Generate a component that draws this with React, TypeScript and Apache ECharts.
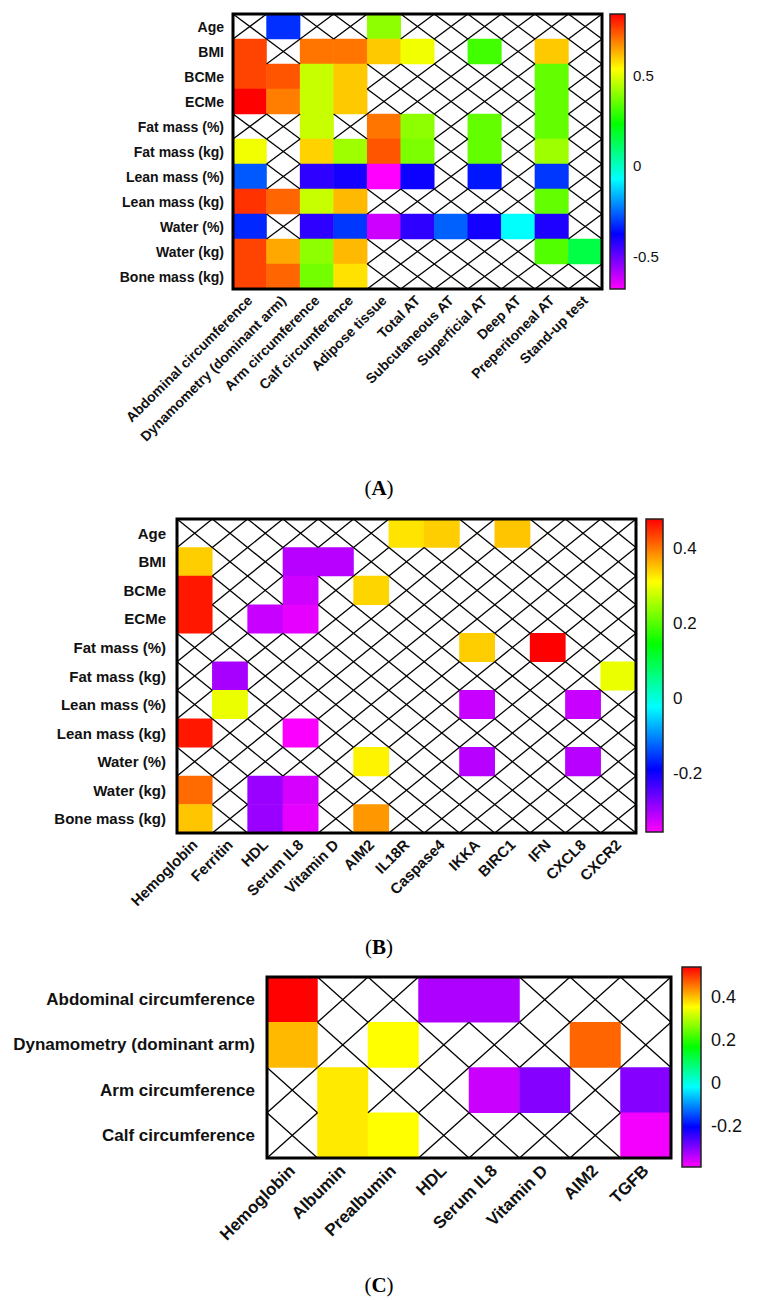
import React, { useEffect, useRef } from 'react';
import * as echarts from 'echarts';

const rowsA = ['Age', 'BMI', 'BCMe', 'ECMe', 'Fat mass (%)', 'Fat mass (kg)', 'Lean mass (%)', 'Lean mass (kg)', 'Water (%)', 'Water (kg)', 'Bone mass (kg)'];
const colsA = ['Abdominal circumference', 'Dynamometry (dominant arm)', 'Arm circumference', 'Calf circumference', 'Adipose tissue', 'Total AT', 'Subcutaneous AT', 'Superficial AT', 'Deep AT', 'Preperitoneal AT', 'Stand-up test'];
const N = null;
const valuesA: (number | null)[][] = [
  [N, -0.32, N, N, 0.40, N, N, N, N, N, N],
  [0.76, N, 0.70, 0.70, 0.60, 0.52, N, 0.31, N, 0.60, N],
  [0.76, 0.74, 0.47, 0.60, N, N, N, N, N, 0.35, N],
  [0.84, 0.69, 0.47, 0.60, N, N, N, N, N, 0.35, N],
  [N, N, 0.47, N, 0.70, 0.40, N, 0.35, N, 0.35, N],
  [0.52, N, 0.59, 0.42, 0.74, 0.38, N, 0.35, N, 0.42, N],
  [-0.27, N, -0.43, -0.40, -0.68, -0.39, N, -0.35, N, -0.31, N],
  [0.78, 0.72, 0.47, 0.62, N, N, N, N, N, 0.35, N],
  [-0.33, N, -0.43, -0.31, -0.62, -0.43, -0.26, -0.40, -0.07, -0.41, N],
  [0.76, 0.64, 0.40, 0.62, N, N, N, N, N, 0.33, 0.15],
  [0.76, 0.72, 0.37, 0.57, N, N, N, N, N, N, N],
];
const rangeA = [-0.68, 0.84];
const ticksA = [-0.5, 0, 0.5];

const rowsB = rowsA;
const colsB = ['Hemoglobin', 'Ferritin', 'HDL', 'Serum IL8', 'Vitamin D', 'AIM2', 'IL18R', 'Caspase4', 'IKKA', 'BIRC1', 'IFN', 'CXCL8', 'CXCR2'];
const valuesB: (number | null)[][] = [
  [N, N, N, N, N, N, 0.33, 0.345, N, 0.35, N, N, N],
  [0.345, N, N, -0.31, -0.31, N, N, N, N, N, N, N, N],
  [0.465, N, N, -0.325, N, 0.34, N, N, N, N, N, N, N],
  [0.465, N, -0.32, -0.34, N, N, N, N, N, N, N, N, N],
  [N, N, N, N, N, N, N, N, 0.345, N, 0.48, N, N],
  [N, -0.30, N, N, N, N, N, N, N, N, N, N, 0.30],
  [N, 0.30, N, N, N, N, N, N, -0.32, N, N, -0.32, N],
  [0.465, N, N, -0.355, N, N, N, N, N, N, N, N, N],
  [N, N, N, N, N, 0.32, N, N, -0.31, N, N, -0.31, N],
  [0.41, N, -0.29, -0.33, N, N, N, N, N, N, N, N, N],
  [0.35, N, -0.29, -0.34, N, 0.38, N, N, N, N, N, N, N],
];
const rangeB = [-0.357, 0.48];
const ticksB = [-0.2, 0, 0.2, 0.4];

const rowsC = ['Abdominal circumference', 'Dynamometry (dominant arm)', 'Arm circumference', 'Calf circumference'];
const colsC = ['Hemoglobin', 'Albumin', 'Prealbumin', 'HDL', 'Serum IL8', 'Vitamin D', 'AIM2', 'TGFB'];
const valuesC: (number | null)[][] = [
  [0.54, N, N, -0.33, -0.33, N, N, N],
  [0.405, N, 0.355, N, N, N, 0.467, N],
  [N, 0.37, N, N, -0.35, -0.30, N, -0.30],
  [N, 0.37, 0.355, N, N, N, N, -0.38],
];
const rangeC = [-0.389, 0.541];
const ticksC = [-0.2, 0, 0.2, 0.4];

const panelLabels = ['A', 'B', 'C'];

const RAINBOW = ['#ff00ff', '#0000ff', '#00ffff', '#00ff00', '#ffff00', '#ff0000'];
const SANS = '"Liberation Sans", Arial, sans-serif';
const SERIF = '"Liberation Serif", "Times New Roman", serif';

export default function App() {
  const ref = useRef<HTMLDivElement>(null);
  useEffect(() => {
    document.body.style.margin = '0';
    if (!ref.current) return;
    const chart = echarts.init(ref.current, undefined, { renderer: 'svg' });

    const panels = [
      { rows: rowsA, cols: colsA, values: valuesA, range: rangeA, ticks: ticksA,
        grid: { left: 233, top: 14, width: 369, height: 275 },
        bar: { left: 610, top: 14, width: 15, height: 275 },
        font: 14, yMargin: 9, xMargin: 9, tickFont: 15, tickMargin: 8, labelY: 488 },
      { rows: rowsB, cols: colsB, values: valuesB, range: rangeB, ticks: ticksB,
        grid: { left: 177, top: 519, width: 459, height: 314 },
        bar: { left: 646, top: 519, width: 17, height: 313 },
        font: 15, yMargin: 11, xMargin: 9, tickFont: 17, tickMargin: 10, labelY: 947 },
      { rows: rowsC, cols: colsC, values: valuesC, range: rangeC, ticks: ticksC,
        grid: { left: 267, top: 977, width: 404, height: 181 },
        bar: { left: 682, top: 967, width: 19, height: 200 },
        font: 17, yMargin: 12, xMargin: 10, tickFont: 18, tickMargin: 10, labelY: 1285 },
    ];

    const grid: any[] = [];
    const xAxis: any[] = [];
    const yAxis: any[] = [];
    const series: any[] = [];
    const visualMap: any[] = [];
    const graphic: any[] = [];

    panels.forEach((p, i) => {
      const gMain = grid.length;
      grid.push({ ...p.grid, containLabel: false });
      const gBar = grid.length;
      grid.push({ ...p.bar, containLabel: false });

      const xMain = xAxis.length;
      xAxis.push({
        type: 'category', gridIndex: gMain, data: p.cols,
        axisLine: { show: false }, axisTick: { show: false }, splitLine: { show: false },
        axisLabel: { interval: 0, rotate: 45, fontWeight: 'bold', fontSize: p.font, fontFamily: SANS, color: '#111', margin: p.xMargin },
      });
      const yMain = yAxis.length;
      yAxis.push({
        type: 'category', gridIndex: gMain, data: p.rows, inverse: true,
        axisLine: { show: false }, axisTick: { show: false }, splitLine: { show: false },
        axisLabel: { interval: 0, fontWeight: 'bold', fontSize: p.font, fontFamily: SANS, color: '#111', margin: p.yMargin },
      });
      const xBar = xAxis.length;
      xAxis.push({ type: 'value', gridIndex: gBar, min: 0, max: 1, show: false });
      const yBar = yAxis.length;
      yAxis.push({
        type: 'value', gridIndex: gBar, min: p.range[0], max: p.range[1], position: 'right',
        axisLine: { show: false }, splitLine: { show: false },
        axisTick: { show: true, customValues: p.ticks, length: 3, inside: false, lineStyle: { color: '#000', width: 1.5 } },
        axisLabel: { show: true, customValues: p.ticks, fontSize: p.tickFont, fontFamily: SANS, color: '#111', margin: p.tickMargin,
          formatter: (v: number) => (Math.abs(v) < 1e-9 ? '0' : String(v)) },
      });
      yAxis.push({
        type: 'value', gridIndex: gBar, min: p.range[0], max: p.range[1], position: 'right',
        axisLine: { show: false }, splitLine: { show: false },
        axisTick: { show: true, customValues: p.ticks, length: 3, inside: true, lineStyle: { color: '#000', width: 1.5 } },
        axisLabel: { show: false },
      });

      const heat: any[] = [];
      const empty: any[] = [];
      p.values.forEach((row, r) => row.forEach((v, c) => {
        if (v === null) empty.push([c, r]); else heat.push([c, r, v]);
      }));

      const heatIdx = series.length;
      series.push({
        type: 'heatmap', xAxisIndex: xMain, yAxisIndex: yMain, data: heat,
        itemStyle: { borderWidth: 0 }, emphasis: { disabled: true }, z: 2,
      });
      visualMap.push({
        type: 'continuous', show: false, seriesIndex: heatIdx,
        min: p.range[0], max: p.range[1], inRange: { color: RAINBOW },
      });
      series.push({
        type: 'custom', xAxisIndex: xMain, yAxisIndex: yMain, data: empty, z: 3, clip: false,
        renderItem: (_params: any, api: any) => {
          const c = api.coord([api.value(0), api.value(1)]);
          const s = api.size([1, 1]);
          const x0 = c[0] - s[0] / 2, x1 = c[0] + s[0] / 2;
          const y0 = c[1] - s[1] / 2, y1 = c[1] + s[1] / 2;
          return {
            type: 'group', children: [
              { type: 'line', shape: { x1: x0, y1: y0, x2: x1, y2: y1 }, style: { stroke: '#000', lineWidth: 1.3 } },
              { type: 'line', shape: { x1: x0, y1: y1, x2: x1, y2: y0 }, style: { stroke: '#000', lineWidth: 1.3 } },
            ],
          };
        },
      });
      const nc = p.cols.length, nr = p.rows.length;
      series.push({
        type: 'custom', xAxisIndex: xMain, yAxisIndex: yMain, data: [[0, 0]], z: 5, clip: false,
        renderItem: (_params: any, api: any) => {
          const c = api.coord([0, 0]);
          const s = api.size([1, 1]);
          return {
            type: 'rect',
            shape: { x: c[0] - s[0] / 2, y: c[1] - s[1] / 2, width: s[0] * nc, height: s[1] * nr },
            style: { fill: 'none', stroke: '#000', lineWidth: 3 },
          };
        },
      });
      const lo = p.range[0], hi = p.range[1];
      series.push({
        type: 'custom', xAxisIndex: xBar, yAxisIndex: yBar, data: [[0, 0]], z: 1, clip: false,
        renderItem: (_params: any, api: any) => {
          const a = api.coord([0, hi]);
          const b = api.coord([1, lo]);
          const stops = RAINBOW.slice().reverse().map((col, k) => ({ offset: k / (RAINBOW.length - 1), color: col }));
          return {
            type: 'rect',
            shape: { x: a[0], y: a[1], width: b[0] - a[0], height: b[1] - a[1] },
            style: { fill: new echarts.graphic.LinearGradient(0, 0, 0, 1, stops), stroke: '#222', lineWidth: 1.5 },
          };
        },
      });

      graphic.push({
        type: 'text', x: 379, y: p.labelY,
        style: {
          text: '{p|(}{b|' + panelLabels[i] + '}{p|)}',
          align: 'center', verticalAlign: 'middle',
          rich: {
            p: { fontSize: 21, fontFamily: SERIF, fill: '#000' },
            b: { fontSize: 21, fontFamily: SERIF, fontWeight: 'bold', fill: '#000' },
          },
        },
      });
    });

    chart.setOption({
      animation: false,
      backgroundColor: '#fff',
      grid, xAxis, yAxis, series, visualMap, graphic,
    });
    return () => chart.dispose();
  }, []);
  return <div ref={ref} style={{ width: 758, height: 1300 }} />;
}
